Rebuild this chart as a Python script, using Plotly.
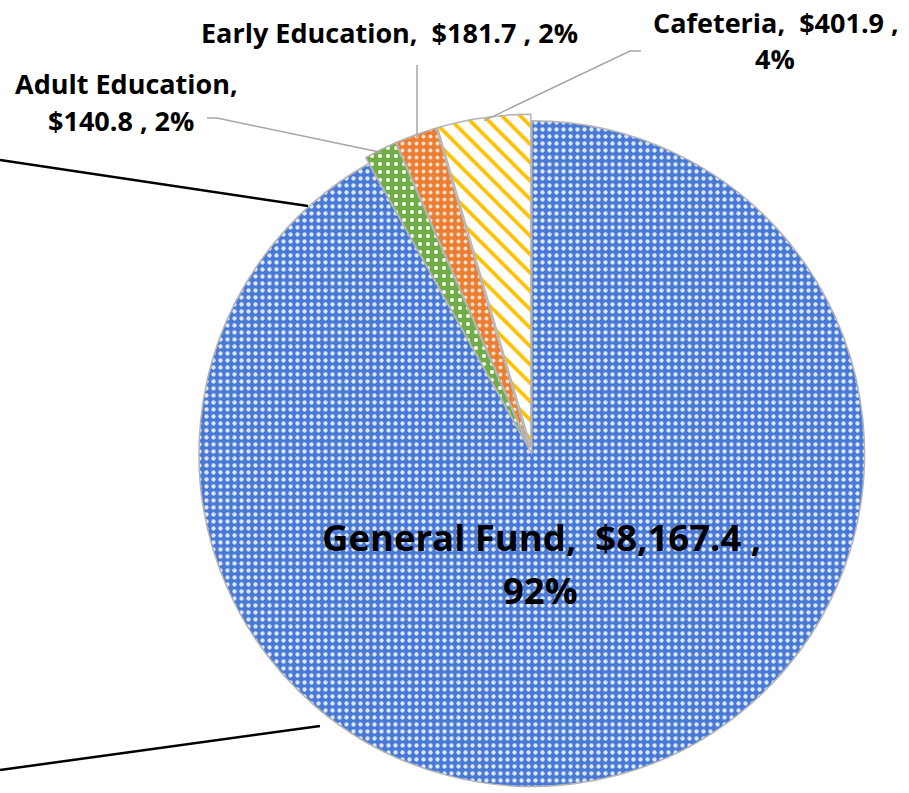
import math
import plotly.graph_objects as go

# ---- data ----
names = ["General Fund", "Adult Education", "Early Education", "Cafeteria"]
values = [8167.4, 140.8, 181.7, 401.9]
pct_labels = ["92%", "2%", "2%", "4%"]

# ---- styling ----
slice_colors = ["#4879D6", "#70AD47", "#ED7D31", "#FFFFFF"]
pattern_shapes = [".", ".", ".", "\\"]
pattern_fg = ["#DCE6FA", "#FFFFFF", "#FCE0CC", "#FFC000"]
pattern_size = [7, 8, 7, 13]
pattern_solid = [0.3, 0.2, 0.25, 0.28]
pulls = [0, 0.02, 0.02, 0.02]

W, H = 909, 793
dom_x = [0.2, 0.97]
dom_y = [0.0, 0.856]
FONT = "Open Sans"

# pie geometry (same as plotly's own layout of a pie in its domain)
box_w = W * (dom_x[1] - dom_x[0])
box_h = H * (dom_y[1] - dom_y[0])
R = min(box_w, box_h) / (2 + 2 * max(pulls))
CX = W * (dom_x[0] + dom_x[1]) / 2
CY = H * (1 - dom_y[0]) - box_h / 2

total = sum(values)


def px(x, y):
    return x / W, 1 - y / H


def slice_edge_point(i, inset=3):
    start = sum(values[:i]) / total * 360
    end = sum(values[: i + 1]) / total * 360
    mid = math.radians((start + end) / 2)
    rr = R * (1 + pulls[i]) - inset
    return CX + rr * math.sin(mid), CY - rr * math.cos(mid)


fig = go.Figure(
    go.Pie(
        labels=names,
        values=values,
        sort=False,
        direction="clockwise",
        rotation=0,
        pull=pulls,
        textinfo="none",
        hoverinfo="label+value",
        showlegend=False,
        domain=dict(x=dom_x, y=dom_y),
        marker=dict(
            colors=slice_colors,
            line=dict(color="#B4B4B4", width=1.5),
            pattern=dict(
                shape=pattern_shapes,
                fgcolor=pattern_fg,
                bgcolor=slice_colors,
                size=pattern_size,
                solidity=pattern_solid,
                fillmode="replace",
            ),
        ),
    )
)

sp = " \u00a0"


def money(v):
    return f"${v:,.1f}"


label_lines = {
    0: [f"{names[0]},{sp}{money(values[0])} ,", pct_labels[0]],
    1: [f"{names[1]},", f"{money(values[1])} , {pct_labels[1]}"],
    2: [f"{names[2]},{sp}{money(values[2])} , {pct_labels[2]}"],
    3: [f"{names[3]},{sp}{money(values[3])} ,", pct_labels[3]],
}
# label line positions in pixels (layout)
label_pos = {
    0: [(541, 537), (540, 590)],
    1: [(127, 84), (121, 121)],
    2: [(389, 32)],
    3: [(776, 22), (775, 59)],
}
label_size = {0: 36.5, 1: 27, 2: 27, 3: 27}

annotations = []
for i, lines in label_lines.items():
    for text, (x, y) in zip(lines, label_pos[i]):
        xp, yp = px(x, y)
        annotations.append(
            dict(
                x=xp, y=yp, xref="paper", yref="paper",
                text=text, showarrow=False,
                xanchor="center", yanchor="middle",
                font=dict(family=FONT, size=label_size[i], color="black", weight="bold"),
            )
        )

shapes = []
# leader lines for the outside labels
leader_start = {
    1: [(207, 118), (217, 118)],
    2: None,
    3: [(641, 51), (630, 51)],
}
for i in (1, 2, 3):
    ex, ey = slice_edge_point(i)
    if leader_start[i] is None:
        pts = [(ex, 65), (ex, ey)]
    else:
        pts = leader_start[i] + [(ex, ey)]
    path = ""
    for k, (x, y) in enumerate(pts):
        xp, yp = px(x, y)
        path += ("M" if k == 0 else " L") + f" {xp} {yp}"
    shapes.append(dict(type="path", xref="paper", yref="paper", path=path,
                       line=dict(color="#A6A6A6", width=1.5)))

# black leader lines of labels that sit outside the visible area
for (x0, y0), (x1, y1) in [((0, 160), (308, 206)), ((0, 770), (320, 726))]:
    a, b = px(x0, y0)
    c, d = px(x1, y1)
    shapes.append(dict(type="line", xref="paper", yref="paper", x0=a, y0=b, x1=c, y1=d,
                       line=dict(color="black", width=2.5)))

fig.update_layout(
    width=W, height=H,
    margin=dict(l=0, r=0, t=0, b=0),
    paper_bgcolor="white",
    plot_bgcolor="white",
    annotations=annotations,
    shapes=shapes,
)

fig.write_html(
    "out.html",
    config={"displayModeBar": False},
    post_script="document.body.style.margin='0';",
)
